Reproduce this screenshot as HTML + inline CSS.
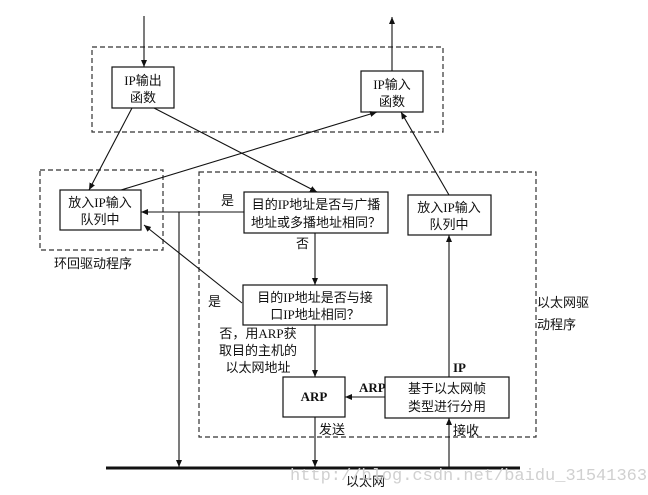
<!DOCTYPE html>
<html><head><meta charset="utf-8"><style>
html,body{margin:0;padding:0;background:#fff;}
svg{display:block;}
text{font-family:"Liberation Serif","Noto Sans CJK SC",serif;font-size:13px;fill:#111;}
</style></head><body>
<svg width="648" height="495" viewBox="0 0 648 495" xmlns="http://www.w3.org/2000/svg">
<defs>
<marker id="a" markerWidth="8" markerHeight="8" refX="7" refY="4" orient="auto" markerUnits="userSpaceOnUse">
<path d="M0,1 L7,4 L0,7 z" fill="#111"/></marker>
</defs>
<g fill="none" stroke="#333" stroke-width="1.2" stroke-dasharray="5,3">
<rect x="92" y="47" width="351" height="85"/>
<rect x="40" y="170" width="123" height="80"/>
<rect x="199" y="172" width="337" height="265"/>
</g>
<g fill="#fff" stroke="#111" stroke-width="1.2">
<rect x="112" y="67" width="62" height="41"/>
<rect x="361" y="71" width="62" height="41"/>
<rect x="60" y="190" width="81" height="40"/>
<rect x="244" y="192" width="144" height="41"/>
<rect x="408" y="195" width="83" height="40"/>
<rect x="243" y="285" width="144" height="40"/>
<rect x="283" y="377" width="62" height="40"/>
<rect x="385" y="377" width="124" height="41"/>
</g>
<g stroke="#111" stroke-width="1.1" fill="none" marker-end="url(#a)">
<line x1="144" y1="16" x2="144" y2="67"/>
<line x1="392" y1="71" x2="392" y2="17"/>
<line x1="132" y1="108" x2="89" y2="190"/>
<line x1="154" y1="108" x2="317" y2="192"/>
<line x1="121" y1="190" x2="377" y2="112"/>
<line x1="449" y1="195" x2="401" y2="112"/>
<line x1="244" y1="212" x2="141" y2="212"/>
<line x1="179" y1="212" x2="179" y2="467"/>
<line x1="315" y1="233" x2="315" y2="285"/>
<line x1="242" y1="303" x2="144" y2="225"/>
<line x1="315" y1="325" x2="315" y2="377"/>
<line x1="385" y1="397" x2="345" y2="397"/>
<line x1="449" y1="377" x2="449" y2="235"/>
<line x1="315" y1="417" x2="315" y2="467"/>
<line x1="449" y1="468" x2="449" y2="418"/>
</g>
<line x1="106" y1="468" x2="520" y2="468" stroke="#111" stroke-width="3"/>
<g text-anchor="middle">
<text x="143" y="85">IP输出</text><text x="143" y="102">函数</text>
<text x="392" y="89">IP输入</text><text x="392" y="106">函数</text>
<text x="100" y="207">放入IP输入</text><text x="100" y="224">队列中</text>
<text x="316" y="209">目的IP地址是否与广播</text><text x="316" y="227">地址或多播地址相同？</text>
<text x="449" y="212">放入IP输入</text><text x="449" y="229">队列中</text>
<text x="315" y="302">目的IP地址是否与接</text><text x="315" y="319">口IP地址相同？</text>
<text x="314" y="401" font-size="11" font-weight="bold">ARP</text>
<text x="447" y="393">基于以太网帧</text><text x="447" y="411">类型进行分用</text>
<text x="258" y="338">否，用ARP获</text><text x="258" y="355">取目的主机的</text><text x="258" y="372">以太网地址</text>
</g>
<text x="221" y="205">是</text>
<text x="296" y="248">否</text>
<text x="208" y="306">是</text>
<text x="54" y="268">环回驱动程序</text>
<text x="537" y="307">以太网驱</text><text x="537" y="329">动程序</text>
<text x="359" y="392" font-size="10" font-weight="bold">ARP</text>
<text x="453" y="372" font-size="10" font-weight="bold">IP</text>
<text x="319" y="434">发送</text>
<text x="453" y="435">接收</text>
<text x="346" y="486">以太网</text>
<text x="290" y="480" style="font-family:'Liberation Mono',monospace;font-size:17px;fill:#d0d0d0">http://blog.csdn.net/baidu_31541363</text>
</svg>
</body></html>
